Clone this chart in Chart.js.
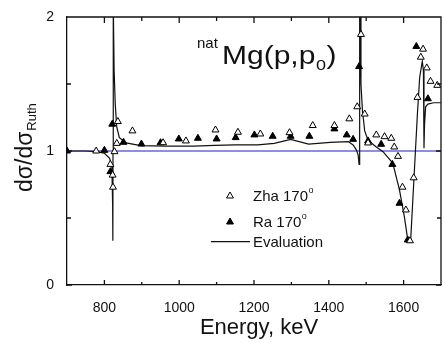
<!DOCTYPE html>
<html lang="en">
<head>
  <meta charset="UTF-8">
  <title>natMg(p,p0) cross section</title>
  <script src="https://cdn.jsdelivr.net/npm/chart.js@4.4.0/dist/chart.umd.min.js"></script>
  <style>
    body { margin: 0; background: #fff; overflow: hidden; }
    .wrap { width: 443px; height: 343px; overflow: hidden; }
  </style>
</head>
<body>
  <div class="wrap">
    <canvas id="mgChart" width="446" height="343"></canvas>
  </div>
  <script>
    // values
    const zhaE = [778, 816, 822, 823, 827, 833, 836, 875, 957, 1018, 1097, 1157, 1217, 1295, 1357, 1415, 1455, 1476, 1486, 1496,
                  1505, 1527, 1549, 1567, 1575, 1585, 1597, 1606, 1617, 1627, 1637, 1646, 1652, 1662, 1672, 1690];
    const zhaY = [1.00, 0.90, 0.82, 0.73, 0.995, 1.057, 1.22, 1.15, 1.062, 1.075, 1.157, 1.14, 1.127, 1.137, 1.19, 1.19, 1.24, 1.33, 1.87, 1.276,
                  1.06, 1.12, 1.107, 1.095, 1.03, 0.96, 0.73, 0.56, 0.33, 0.80, 1.40, 1.70, 1.76, 1.62, 1.52, 1.49];

    const raE = [700, 800, 816, 821, 851, 899, 950, 999, 1050, 1100, 1151, 1201, 1250, 1298, 1348, 1415, 1448, 1465, 1481,
                 1505, 1540, 1570, 1589, 1611, 1634, 1665];
    const raY = [1.00, 1.005, 0.846, 1.20, 1.065, 1.052, 1.062, 1.09, 1.095, 1.09, 1.10, 1.12, 1.11, 1.11, 1.11, 1.165, 1.12, 1.087, 1.63,
                 1.075, 1.05, 0.90, 0.61, 0.336, 1.78, 1.39];

    const evalE = [700, 750, 778, 800, 814, 820, 822, 822.6, 823, 823.4, 824, 826, 829, 833, 840, 858, 897, 963, 1040, 1095,
                   1150, 1210, 1254, 1298, 1346, 1404, 1452, 1465, 1474, 1478.5, 1481, 1482.5, 1483.5, 1486, 1490, 1496, 1505, 1527,
                   1545, 1571, 1589, 1602, 1611, 1616, 1619, 1628, 1637, 1643, 1650, 1653, 1654.5, 1656, 1659, 1665, 1680, 1700];
    const evalY = [1.0, 1.0, 0.995, 0.983, 0.945, 0.88, 0.6, 0.33, 1.0, 2.3, 2.1, 1.6, 1.35, 1.18, 1.10, 1.06, 1.04, 1.037, 1.037, 1.042,
                   1.045, 1.045, 1.057, 1.087, 1.052, 1.065, 1.07, 1.045, 1.007, 0.97, 0.9, 2.3, 2.1, 1.5, 1.3, 1.15, 1.08, 1.03,
                   0.995, 0.91, 0.71, 0.51, 0.34, 0.33, 0.34, 0.81, 1.28, 1.55, 1.67, 1.6, 1.02, 1.2, 1.33, 1.35, 1.36, 1.36];

    const unityE = [700, 1700];
    const unityY = [1, 1];

    const xTicks = [800, 1000, 1200, 1400, 1600];
    const xMinor = [900, 1100, 1300, 1500, 1700];
    const yTicks = [0, 1, 2];
    const yMinor = [0.5, 1.5];

    const FONT = "'Liberation Sans', Arial, sans-serif";
    const pts = (xs, ys) => xs.map((x, i) => ({ x: x, y: ys[i] }));

    // inward ticks on all four sides + top/right border
    const frame = {
      id: 'frame',
      afterDraw(chart) {
        const { ctx, chartArea: a, scales: { x, y } } = chart;
        ctx.save();
        ctx.strokeStyle = '#111';
        ctx.lineWidth = 1.3;
        ctx.beginPath();
        ctx.moveTo(a.left, a.top); ctx.lineTo(a.right, a.top); ctx.lineTo(a.right, a.bottom);
        xTicks.concat(xMinor).forEach(v => {
          const px = x.getPixelForValue(v);
          const big = xTicks.includes(v);
          ctx.moveTo(px, a.bottom); ctx.lineTo(px, a.bottom - (big ? 5 : 3));
          ctx.moveTo(px, a.top); ctx.lineTo(px, a.top + (big ? 6 : 4));
        });
        yTicks.concat(yMinor).forEach(v => {
          const py = y.getPixelForValue(v);
          const big = yTicks.includes(v);
          ctx.moveTo(a.left, py); ctx.lineTo(a.left + (big ? 5 : 4), py);
          ctx.moveTo(a.right, py); ctx.lineTo(a.right - (big ? 5 : 4), py);
        });
        ctx.stroke();
        ctx.restore();
      }
    };

    const labels = {
      id: 'labels',
      afterDraw(chart) {
        const ctx = chart.ctx;
        ctx.save();
        ctx.fillStyle = '#111';
        ctx.textBaseline = 'alphabetic';

        // title
        ctx.font = '15px ' + FONT;
        ctx.fillText('nat', 197, 48);
        ctx.save();
        ctx.translate(222, 64);
        ctx.scale(1.2, 1);
        ctx.font = '25px ' + FONT;
        ctx.fillText('Mg(p,p', 0, 0);
        let w = ctx.measureText('Mg(p,p').width;
        ctx.font = '15px ' + FONT;
        ctx.fillText('0', w + 0.5, 6);
        w += ctx.measureText('0').width + 1;
        ctx.font = '25px ' + FONT;
        ctx.fillText(')', w, 0);
        ctx.restore();

        // axis titles
        ctx.font = '22px ' + FONT;
        ctx.textAlign = 'center';
        ctx.fillText('Energy, keV', 259, 334);
        ctx.textAlign = 'left';

        ctx.save();
        ctx.translate(32, 192);
        ctx.rotate(-Math.PI / 2);
        ctx.font = '23px ' + FONT;
        ctx.fillText('d\u03c3/d\u03c3', 0, 0);
        const lw = ctx.measureText('d\u03c3/d\u03c3').width;
        ctx.font = '13px ' + FONT;
        ctx.fillText('Ruth', lw + 1, 4);
        ctx.restore();

        // legend
        const tri = (cx, cy, fill) => {
          const r = 4;
          ctx.beginPath();
          ctx.moveTo(cx, cy - r);
          ctx.lineTo(cx + r * 0.866, cy + r * 0.5);
          ctx.lineTo(cx - r * 0.866, cy + r * 0.5);
          ctx.closePath();
          ctx.fillStyle = fill;
          ctx.fill();
          ctx.lineWidth = 1;
          ctx.strokeStyle = '#000';
          ctx.stroke();
        };
        tri(230, 196, '#fff');
        tri(230, 222, '#000');
        ctx.beginPath();
        ctx.moveTo(211, 241.7); ctx.lineTo(250, 241.7);
        ctx.lineWidth = 1.2; ctx.strokeStyle = '#111'; ctx.stroke();

        ctx.fillStyle = '#111';
        const entry = (txt, yb, deg) => {
          ctx.font = '15px ' + FONT;
          ctx.fillText(txt, 253, yb);
          if (deg) {
            const tw = ctx.measureText(txt).width;
            ctx.font = '9px ' + FONT;
            ctx.fillText('o', 253 + tw + 0.5, yb - 8);
          }
        };
        entry('Zha 170', 201, true);
        entry('Ra 170', 227, true);
        entry('Evaluation', 247, false);
        ctx.restore();
      }
    };

    new Chart(document.getElementById('mgChart'), {
      type: 'scatter',
      data: {
        datasets: [
          {
            label: 'Zha 170',
            data: pts(zhaE, zhaY),
            pointStyle: 'triangle',
            pointRadius: 4,
            pointBorderWidth: 1,
            pointBackgroundColor: '#fff',
            pointBorderColor: '#000',
            showLine: false
          },
          {
            label: 'Ra 170',
            data: pts(raE, raY),
            pointStyle: 'triangle',
            pointRadius: 4,
            pointBorderWidth: 1,
            pointBackgroundColor: '#000',
            pointBorderColor: '#000',
            showLine: false
          },
          {
            label: 'Evaluation',
            data: pts(evalE, evalY),
            showLine: true,
            pointRadius: 0,
            borderColor: '#111',
            borderWidth: 1.2,
            tension: 0
          },
          {
            label: 'unity',
            data: pts(unityE, unityY),
            showLine: true,
            pointRadius: 0,
            borderColor: '#1c1ccc',
            borderWidth: 1.2
          }
        ]
      },
      options: {
        responsive: false,
        animation: false,
        events: [],
        layout: { padding: { top: 17, right: 0, left: 0, bottom: 0 } },
        plugins: {
          legend: { display: false },
          tooltip: { enabled: false }
        },
        scales: {
          x: {
            type: 'linear',
            min: 700,
            max: 1700,
            afterBuildTicks: s => { s.ticks = xTicks.map(v => ({ value: v })); },
            afterFit: s => { s.height = 58; },
            grid: { display: false },
            border: { display: true, color: '#111', width: 1.3 },
            ticks: { color: '#111', font: { family: FONT, size: 14 }, padding: 7, maxRotation: 0, callback: v => String(v) }
          },
          y: {
            min: 0,
            max: 2,
            afterBuildTicks: s => { s.ticks = yTicks.map(v => ({ value: v })); },
            afterFit: s => { s.width = 67; },
            grid: { display: false },
            border: { display: true, color: '#111', width: 1.3 },
            ticks: { color: '#111', font: { family: FONT, size: 14 }, padding: 5, callback: v => String(v) }
          }
        }
      },
      plugins: [frame, labels]
    });
  </script>
</body>
</html>
